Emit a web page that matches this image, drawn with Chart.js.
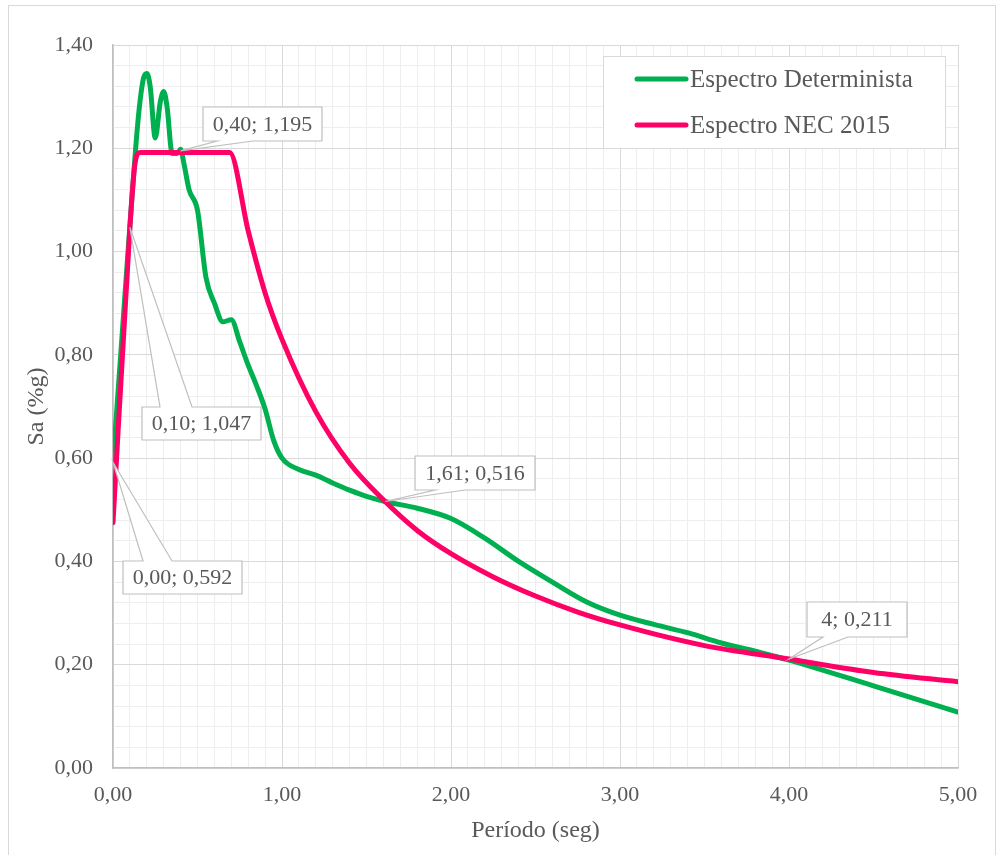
<!DOCTYPE html>
<html>
<head>
<meta charset="utf-8">
<script src="https://cdn.jsdelivr.net/npm/chart.js@4"></script>
<style>
  html, body { margin: 0; padding: 0; background: #fff; }
  #wrap { width: 1003px; height: 855px; }
</style>
</head>
<body>
<div id="wrap"><canvas id="espectroChart" width="1003" height="855"></canvas></div>
<script>
// Espectro Determinista (periodo en seg, Sa en %g)
const periodoDet = [0, 0.05, 0.1, 0.15, 0.18, 0.2, 0.22, 0.25, 0.28, 0.3, 0.32, 0.35, 0.38, 0.4, 0.42, 0.45,
    0.5, 0.55, 0.6, 0.65, 0.7, 0.75, 0.8, 0.85, 0.9, 0.95, 1.0, 1.1, 1.2, 1.3, 1.4, 1.5, 1.61, 1.8, 2.0,
    2.2, 2.4, 2.6, 2.8, 3.0, 3.2, 3.4, 3.6, 3.8, 4.0, 4.5, 5.0];
const saDet = [0.592, 0.82, 1.05, 1.26, 1.335, 1.345, 1.32, 1.22, 1.29, 1.31, 1.28, 1.19, 1.19, 1.198, 1.17, 1.12,
    1.08, 0.95, 0.90, 0.864, 0.868, 0.825, 0.78, 0.74, 0.695, 0.635, 0.60, 0.578, 0.567, 0.552, 0.538, 0.526, 0.516, 0.503, 0.483,
    0.445, 0.40, 0.36, 0.322, 0.296, 0.278, 0.262, 0.242, 0.226, 0.209, 0.159, 0.108];

// Espectro NEC 2015
const periodoNec = [0, 0.1, 0.13, 0.16, 0.2, 0.3, 0.4, 0.5, 0.6, 0.69, 0.8, 0.9, 1.0, 1.2, 1.4, 1.61, 1.8, 2.0,
    2.25, 2.5, 2.75, 3.0, 3.5, 4.0, 4.5, 5.0];
const saNec = [0.475, 1.047, 1.17, 1.192, 1.192, 1.192, 1.192, 1.192, 1.192, 1.192, 1.04, 0.92, 0.83, 0.69, 0.59, 0.516, 0.46, 0.415,
    0.37, 0.333, 0.302, 0.277, 0.237, 0.211, 0.185, 0.167];

// Etiquetas de datos
const etiquetaT = [0.40, 0.10, 0.00, 1.61, 4];
const etiquetaSa = [1.195, 1.047, 0.592, 0.516, 0.211];
const etiquetaTexto = ['0,40; 1,195', '0,10; 1,047', '0,00; 0,592', '1,61; 0,516', '4; 0,211'];

const serie1 = 'Espectro Determinista';
const serie2 = 'Espectro NEC 2015';

const verde = '#00b050';
const rosa = '#ff0066';
const gris = '#595959';
const fuente = '"Liberation Serif", "Times New Roman", serif';

const toPoints = (xs, ys) => xs.map((x, i) => ({ x: x, y: ys[i] }));
const fmt = v => v.toFixed(2).replace('.', ',');

// caja + cola de cada etiqueta: [x0, y0, x1, y1, colaA, colaB, lado]
const cajas = [
    [203, 107, 322, 141, 217, 253, 'bottom'],
    [142, 407, 261, 440, 160, 192, 'top'],
    [123, 561, 242, 594, 143, 172, 'top'],
    [415, 456, 535, 490, 435, 465, 'bottom'],
    [807, 602, 907, 637, 823, 848, 'bottom']
];

const etiquetasPlugin = {
    id: 'etiquetas',
    afterDatasetsDraw(chart) {
        const ctx = chart.ctx;
        const xs = chart.scales.x, ys = chart.scales.y;
        ctx.save();
        etiquetaTexto.forEach((txt, i) => {
            const [x0, y0, x1, y1, ta, tb, lado] = cajas[i];
            const px = xs.getPixelForValue(etiquetaT[i]);
            const py = ys.getPixelForValue(etiquetaSa[i]);
            ctx.beginPath();
            if (lado === 'bottom') {
                ctx.moveTo(x0, y0); ctx.lineTo(x1, y0); ctx.lineTo(x1, y1);
                ctx.lineTo(tb, y1); ctx.lineTo(px, py); ctx.lineTo(ta, y1);
                ctx.lineTo(x0, y1);
            } else {
                ctx.moveTo(x0, y0); ctx.lineTo(ta, y0); ctx.lineTo(px, py);
                ctx.lineTo(tb, y0); ctx.lineTo(x1, y0); ctx.lineTo(x1, y1);
                ctx.lineTo(x0, y1);
            }
            ctx.closePath();
            ctx.fillStyle = '#ffffff';
            ctx.fill();
            ctx.strokeStyle = '#bfbfbf';
            ctx.lineWidth = 1.2;
            ctx.stroke();
            ctx.fillStyle = gris;
            ctx.font = '22px ' + fuente;
            ctx.textAlign = 'center';
            ctx.textBaseline = 'middle';
            ctx.fillText(txt, (x0 + x1) / 2, (y0 + y1) / 2 + 1);
        });
        ctx.restore();
    },
    afterDraw(chart) {
        const ctx = chart.ctx;
        ctx.save();
        // leyenda
        ctx.fillStyle = '#ffffff';
        ctx.fillRect(603, 56, 342, 92);
        ctx.strokeStyle = '#d9d9d9';
        ctx.lineWidth = 1;
        ctx.strokeRect(603.5, 56.5, 342, 92);
        [[serie1, verde, 79], [serie2, rosa, 125]].forEach(([nombre, color, y]) => {
            ctx.strokeStyle = color;
            ctx.lineWidth = 5;
            ctx.lineCap = 'round';
            ctx.beginPath();
            ctx.moveTo(637, y);
            ctx.lineTo(686, y);
            ctx.stroke();
            ctx.fillStyle = gris;
            ctx.font = '25px ' + fuente;
            ctx.textAlign = 'left';
            ctx.textBaseline = 'middle';
            ctx.fillText(nombre, 690, y + 1);
        });
        // borde exterior
        ctx.strokeStyle = '#d9d9d9';
        ctx.lineWidth = 1;
        ctx.strokeRect(8.5, 5.5, 987, 860);
        ctx.restore();
    }
};

const esMayorX = v => Math.abs(v - Math.round(v)) < 1e-6;
const esMayorY = v => Math.abs(v / 0.2 - Math.round(v / 0.2)) < 1e-6;

const ctx = document.getElementById('espectroChart').getContext('2d');
const espectroChart = new Chart(ctx, {
    type: 'line',
    data: {
        datasets: [{
            label: serie1,
            data: toPoints(periodoDet, saDet),
            borderColor: verde,
            borderWidth: 5,
            pointRadius: 0,
            cubicInterpolationMode: 'monotone',
            borderCapStyle: 'round',
            borderJoinStyle: 'round',
            fill: false,
            order: 2
        }, {
            label: serie2,
            data: toPoints(periodoNec, saNec),
            borderColor: rosa,
            borderWidth: 5,
            pointRadius: 0,
            cubicInterpolationMode: 'monotone',
            borderCapStyle: 'round',
            borderJoinStyle: 'round',
            fill: false,
            order: 1
        }]
    },
    options: {
        responsive: false,
        animation: false,
        layout: { padding: { top: 45, right: 45, left: 0, bottom: 0 } },
        plugins: {
            legend: { display: false },
            tooltip: { enabled: false }
        },
        scales: {
            x: {
                type: 'linear',
                min: 0,
                max: 5,
                afterFit: s => { s.height = 87; },
                ticks: {
                    stepSize: 0.1,
                    autoSkip: false,
                    maxRotation: 0,
                    padding: 14,
                    color: gris,
                    font: { family: fuente, size: 22 },
                    callback: v => esMayorX(v) ? fmt(v) : ''
                },
                grid: {
                    drawTicks: false,
                    color: c => esMayorX(c.tick.value) ? '#d9d9d9' : '#eeeeee',
                    lineWidth: 1
                },
                border: { color: '#bfbfbf', width: 1.5 },
                title: {
                    display: true,
                    text: 'Período (seg)',
                    color: gris,
                    font: { family: fuente, size: 24 },
                    padding: { top: 0, bottom: 10 }
                }
            },
            y: {
                min: 0,
                max: 1.4,
                afterFit: s => { s.width = 113; },
                ticks: {
                    stepSize: 0.04,
                    autoSkip: false,
                    padding: 20,
                    color: gris,
                    font: { family: fuente, size: 22 },
                    callback: v => esMayorY(v) ? fmt(v) : ''
                },
                grid: {
                    drawTicks: false,
                    color: c => esMayorY(c.tick.value) ? '#d9d9d9' : '#eeeeee',
                    lineWidth: 1
                },
                border: { color: '#bfbfbf', width: 1.5 },
                title: {
                    display: true,
                    text: 'Sa (%g)',
                    color: gris,
                    font: { family: fuente, size: 24 },
                    padding: { top: 22, bottom: 10 }
                }
            }
        }
    },
    plugins: [etiquetasPlugin]
});
</script>
</body>
</html>
